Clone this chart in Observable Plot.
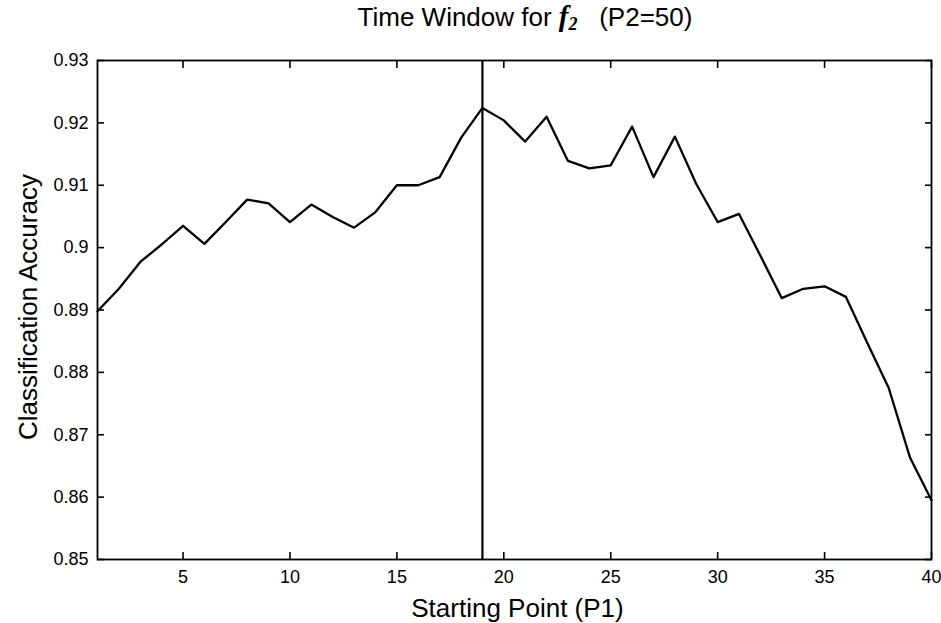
<!DOCTYPE html>
<html><head><meta charset="utf-8">
<script src="https://cdn.jsdelivr.net/npm/d3@7"></script>
<script src="https://cdn.jsdelivr.net/npm/@observablehq/plot@0.6"></script>
<style>
body{margin:0;background:#fff;}
#wrap{position:relative;width:941px;height:623px;overflow:hidden;}
#title{position:absolute;top:0;left:525px;transform:translateX(-50%);height:44px;line-height:44px;white-space:nowrap;
  font:26px "Liberation Sans",Arial,sans-serif;color:#000;}
#title i{font-family:"Liberation Serif","Times New Roman",serif;font-weight:bold;font-size:29px;}
#title sub{font-family:"Liberation Serif","Times New Roman",serif;font-weight:bold;font-style:italic;font-size:18px;vertical-align:-4px;line-height:0;}
#chart{position:absolute;top:44px;left:0;}
</style></head><body>
<div id="wrap">
<div id="title">Time Window for <i>f</i><sub>2</sub>&nbsp;&nbsp;&nbsp;(P2=50)</div>
<div id="chart"></div>
</div>
<script>
const startingPoint = [1,2,3,4,5,6,7,8,9,10,11,12,13,14,15,16,17,18,19,20,21,22,23,24,25,26,27,28,29,30,31,32,33,34,35,36,37,38,39,40];
const accuracy = [0.8898,0.8934,0.8977,0.9005,0.9035,0.9006,0.9041,0.9077,0.9071,0.9041,
  0.9069,0.9049,0.9032,0.9057,0.9100,0.9100,0.9113,0.9176,0.9224,0.9204,
  0.9170,0.9210,0.9139,0.9127,0.9132,0.9194,0.9113,0.9178,0.9102,0.9041,
  0.9054,0.8987,0.8919,0.8934,0.8938,0.8921,0.8847,0.8775,0.8663,0.8595];
const selectedStart = [19];
const xTicks = [5,10,15,20,25,30,35,40];
const yTicks = [0.85,0.86,0.87,0.88,0.89,0.90,0.91,0.92,0.93];
const xLabel = "Starting Point (P1)";
const yLabel = "Classification Accuracy";

const data = startingPoint.map((p, i) => ({p, acc: accuracy[i]}));

const W = 941, H = 579, mL = 97, mR = 10, mT = 16, mB = 64;
const tl = 7;
const noText = () => "";
const fmtY = d => String(+d.toFixed(2));

const chart = Plot.plot({
  width: W, height: H,
  marginLeft: mL, marginRight: mR, marginTop: mT, marginBottom: mB,
  style: {fontFamily: "'Liberation Sans', Arial, sans-serif", fontSize: "18px", color: "#000", background: "#fff"},
  x: {domain: [1, 40]},
  y: {domain: [0.85, 0.93]},
  marks: [
    Plot.frame({stroke: "#000", strokeWidth: 1.8}),
    // inward tick marks on all four sides
    Plot.axisY(yTicks, {anchor: "left", tickSize: tl, dx: tl, tickFormat: noText, label: null, strokeWidth: 1.6}),
    Plot.axisY(yTicks, {anchor: "right", tickSize: tl, dx: -tl, tickFormat: noText, label: null, strokeWidth: 1.6}),
    Plot.axisX(xTicks, {anchor: "bottom", tickSize: tl, dy: -tl, tickFormat: noText, label: null, strokeWidth: 1.6}),
    Plot.axisX(xTicks, {anchor: "top", tickSize: tl, dy: tl, tickFormat: noText, label: null, strokeWidth: 1.6}),
    // tick labels
    Plot.axisX(xTicks, {anchor: "bottom", tickSize: 0, tickPadding: 11, label: null, fontSize: 18}),
    Plot.axisY(yTicks, {anchor: "left", tickSize: 0, tickPadding: 9, label: null, fontSize: 18, tickFormat: fmtY}),
    Plot.ruleX(selectedStart, {stroke: "#000", strokeWidth: 2.2}),
    Plot.line(data, {x: "p", y: "acc", stroke: "#000", strokeWidth: 2.3}),
    Plot.text([xLabel], {frameAnchor: "bottom", textAnchor: "middle", dx: 3, dy: 49, lineAnchor: "middle", fontSize: 26, fill: "#000"}),
    Plot.text([yLabel], {frameAnchor: "left", textAnchor: "middle", dx: -69, dy: -3, rotate: -90, lineAnchor: "middle", fontSize: 26, fill: "#000"})
  ]
});
document.getElementById("chart").appendChild(chart);
</script>
</body></html>
